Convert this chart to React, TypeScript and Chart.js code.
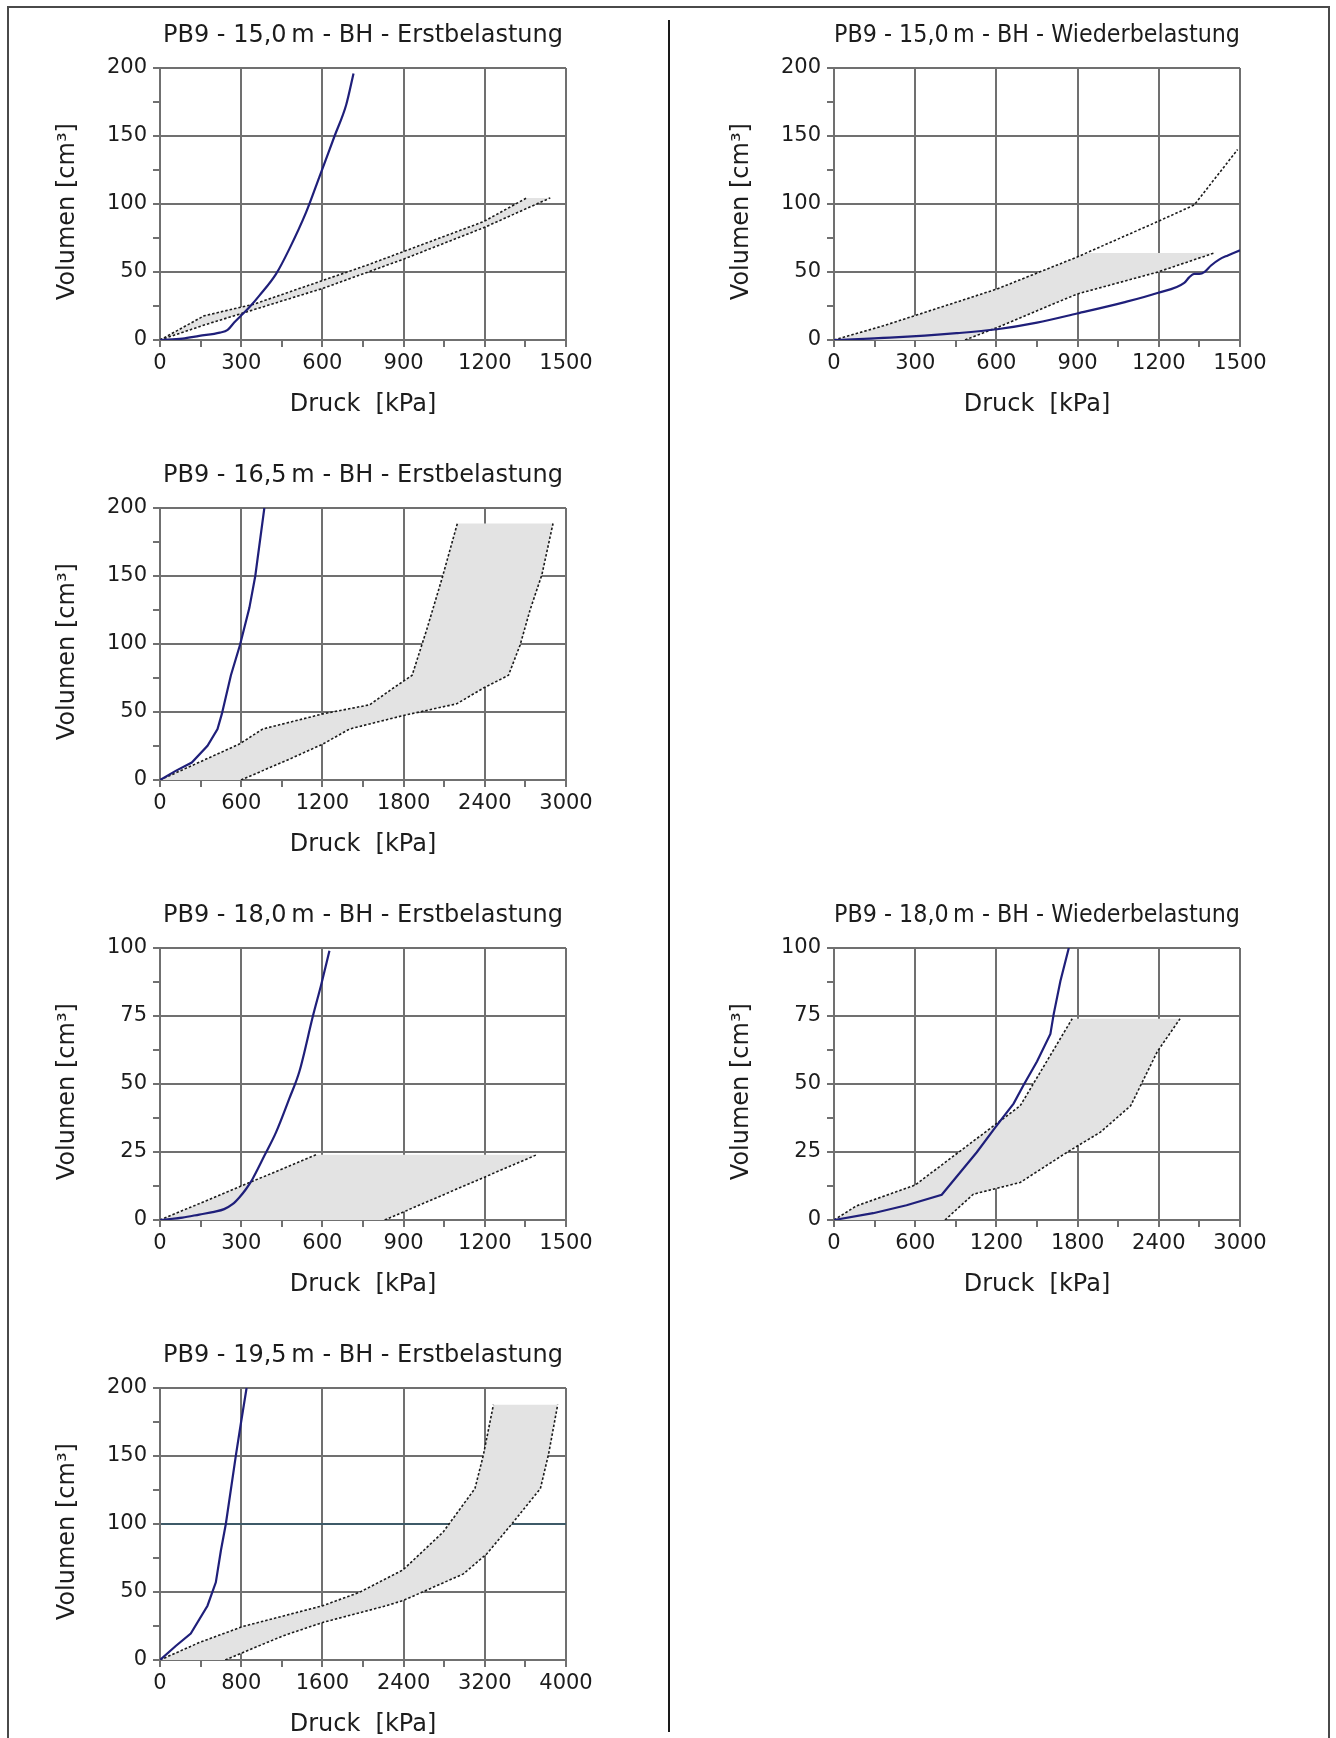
import React, { useEffect, useRef } from "react";
import { Chart, registerables } from "chart.js";

Chart.register(...registerables);

type Pt = [number, number];

// ---------- PB9 - 15,0 m - Erstbelastung ----------
const p1Curve: Pt[] = [[0,0],[83,1],[145,3],[221,5.4],[250,7.4],[274,12.8],[299,17.8],[330,24],[367,32.6],[429,48.6],[478,67],[540,94],[589,120],[645,150],[688,173],[715,196]];
const p1Upper: Pt[] = [[0,0],[163,17.8],[348,26.4],[762,54.8],[1195,87],[1355,104.5]];
const p1Lower: Pt[] = [[0,0],[163,11],[293,19],[602,38],[898,59.3],[1195,82.5],[1442,104.5]];

// ---------- PB9 - 15,0 m - Wiederbelastung ----------
const p2Curve: Pt[] = [[0,0],[206,1.7],[453,5],[602,7.9],[750,12.8],[898,19.5],[1071,27.7],[1195,34.6],[1294,42],[1312,46],[1331,48.6],[1350,48.6],[1368,49.9],[1393,54.8],[1424,59.3],[1455,62.2],[1500,66]];
const p2Upper: Pt[] = [[0,0],[182,10.4],[602,37.5],[898,61],[1195,87],[1331,99.3],[1491,140]];
const p2Lower: Pt[] = [[484,0],[602,9.1],[898,33.8],[1195,49.9],[1405,64]];
const p2Band: Pt[] = [[0,0],[182,10.4],[602,37.5],[898,61],[935,64],[1405,64],[1195,49.9],[898,33.8],[602,9.1],[484,0]];

// ---------- PB9 - 16,5 m - Erstbelastung ----------
const p3Curve: Pt[] = [[0,0],[116,6.7],[235,12.8],[351,25.2],[425,37.5],[457,48.6],[524,77],[591,99.3],[660,126.4],[704,150],[771,200]];
const p3Upper: Pt[] = [[0,0],[586,26.4],[759,37.5],[1203,48.6],[1549,55.3],[1715,67],[1863,77],[1974,111.6],[2085,148.6],[2197,188.6]];
const p3Lower: Pt[] = [[598,0],[956,15.3],[1203,26.4],[1401,37.5],[1797,47.4],[2192,56],[2390,67.6],[2575,77],[2661,99.3],[2735,125.2],[2822,151],[2904,188.6]];

// ---------- PB9 - 18,0 m - Erstbelastung ----------
const p4Curve: Pt[] = [[0,0],[83,0.9],[145,2],[200,3],[237,4],[268,5.8],[293,8.3],[318,11.4],[342,15.1],[386,23.7],[429,32.3],[478,44.7],[515,54.6],[565,75],[596,86.7],[626,99]];
const p4Upper: Pt[] = [[0,0],[577,24]];
const p4Lower: Pt[] = [[830,0],[1392,24]];

// ---------- PB9 - 18,0 m - Wiederbelastung ----------
const p5Curve: Pt[] = [[0,0],[289,2.5],[536,5.4],[796,9.3],[1055,24.9],[1203,34.8],[1327,42.8],[1401,49.6],[1500,58.3],[1599,68.4],[1623,75.6],[1673,87.9],[1735,100]];
const p5Upper: Pt[] = [[0,0],[166,5.2],[598,12.8],[1376,42],[1760,74]];
const p5Lower: Pt[] = [[820,0],[1030,9.5],[1376,13.8],[1722,24.9],[1969,32.3],[2192,42],[2390,62],[2557,74]];

// ---------- PB9 - 19,5 m - Erstbelastung ----------
const p6Curve: Pt[] = [[0,0],[155,10.3],[303,19.5],[468,39.9],[550,57.1],[600,80.5],[649,100.2],[748,150.7],[797,174.1],[853,200]];
const p6Upper: Pt[] = [[0,0],[386,12.8],[814,24.6],[1603,39.9],[1966,49.8],[2395,66.3],[2790,94.1],[3103,126.1],[3186,150.7],[3285,187.7]];
const p6Lower: Pt[] = [[643,0],[1209,17.7],[1603,27.6],[2194,39.2],[2392,43.6],[2989,63.3],[3220,78.1],[3468,100.2],[3748,126.1],[3830,152],[3918,187.7]];

const FONT = "'DejaVu Sans', 'Liberation Sans', Arial, sans-serif";
const TEXT = "#1c1c1c";
const GRID = "#707070";
const BLUE = "#1f1f7a";
const DOT = "#1a1a1a";
const BAND = "#e3e3e3";

interface PanelDef {
  title: string;
  col: number;
  row: number;
  xMax: number;
  xMajor: number;
  yMax: number;
  yMajor: number;
  curve: Pt[];
  upper: Pt[];
  lower: Pt[];
  band: Pt[];
  smooth: boolean;
  accentY?: number;
}

const closeBand = (u: Pt[], l: Pt[]): Pt[] => [...u, ...l.slice().reverse()];

const PANELS: PanelDef[] = [
  { title: "PB9 - 15,0\u2009m - BH - Erstbelastung", col: 0, row: 0, xMax: 1500, xMajor: 300, yMax: 200, yMajor: 50, curve: p1Curve, upper: p1Upper, lower: p1Lower, band: closeBand(p1Upper, p1Lower), smooth: true },
  { title: "PB9 - 15,0\u2009m - BH - Wiederbelastung", col: 1, row: 0, xMax: 1500, xMajor: 300, yMax: 200, yMajor: 50, curve: p2Curve, upper: p2Upper, lower: p2Lower, band: p2Band, smooth: true },
  { title: "PB9 - 16,5\u2009m - BH - Erstbelastung", col: 0, row: 1, xMax: 3000, xMajor: 600, yMax: 200, yMajor: 50, curve: p3Curve, upper: p3Upper, lower: p3Lower, band: closeBand(p3Upper, p3Lower), smooth: false },
  { title: "PB9 - 18,0\u2009m - BH - Erstbelastung", col: 0, row: 2, xMax: 1500, xMajor: 300, yMax: 100, yMajor: 25, curve: p4Curve, upper: p4Upper, lower: p4Lower, band: closeBand(p4Upper, p4Lower), smooth: true },
  { title: "PB9 - 18,0\u2009m - BH - Wiederbelastung", col: 1, row: 2, xMax: 3000, xMajor: 600, yMax: 100, yMajor: 25, curve: p5Curve, upper: p5Upper, lower: p5Lower, band: closeBand(p5Upper, p5Lower), smooth: false },
  { title: "PB9 - 19,5\u2009m - BH - Erstbelastung", col: 0, row: 3, xMax: 4000, xMajor: 800, yMax: 200, yMajor: 50, curve: p6Curve, upper: p6Upper, lower: p6Lower, band: closeBand(p6Upper, p6Lower), smooth: false, accentY: 100 },
];

const CANVAS_W = 600;
const CANVAS_H = 430;
const COL_LEFT = [0, 674];
const ROW_TOP = 440;
const Y_AXIS_W = 160;
const X_AXIS_H = 90;

const toXY = (a: Pt[]) => a.map(([x, y]) => ({ x, y }));

function Panel({ def }: { def: PanelDef }) {
  const ref = useRef<HTMLCanvasElement | null>(null);
  useEffect(() => {
    if (!ref.current) return;
    const isMajor = (v: number, m: number) => Math.abs(v / m - Math.round(v / m)) < 1e-6;
    const chart = new Chart(ref.current, {
      type: "line",
      data: {
        datasets: [
          {
            data: toXY(def.curve),
            borderColor: BLUE,
            borderWidth: 2.2,
            pointRadius: 0,
            fill: false,
            cubicInterpolationMode: def.smooth ? "monotone" : "default",
            tension: 0,
          } as any,
          {
            data: toXY(def.upper),
            borderColor: DOT,
            borderWidth: 1.6,
            borderDash: [2.5, 2],
            pointRadius: 0,
            fill: false,
          },
          {
            data: toXY(def.lower),
            borderColor: DOT,
            borderWidth: 1.6,
            borderDash: [2.5, 2],
            pointRadius: 0,
            fill: false,
          },
          {
            data: toXY(def.band),
            borderColor: "rgba(0,0,0,0)",
            borderWidth: 0,
            backgroundColor: BAND,
            pointRadius: 0,
            fill: "shape",
          } as any,
        ],
      },
      options: {
        animation: false,
        responsive: false,
        maintainAspectRatio: false,
        events: [],
        layout: { padding: { left: 0, right: CANVAS_W - Y_AXIS_W - 406, top: 1, bottom: 0 } },
        plugins: {
          legend: { display: false },
          tooltip: { enabled: false },
          title: {
            display: true,
            text: def.title,
            fullSize: false,
            color: TEXT,
            font: { family: FONT, size: 24, weight: "normal", lineHeight: 1.25 },
            padding: { top: 20, bottom: 17 },
          },
        },
        scales: {
          x: {
            type: "linear",
            min: 0,
            max: def.xMax,
            afterFit: (s: any) => { s.height = X_AXIS_H; },
            ticks: {
              stepSize: def.xMajor / 2,
              autoSkip: false,
              maxRotation: 0,
              minRotation: 0,
              color: TEXT,
              padding: 6,
              font: { family: FONT, size: 21, lineHeight: 1 },
              callback: (v: any) => (isMajor(Number(v), def.xMajor) ? String(v) : ""),
            },
            grid: {
              color: (c: any) => (c.tick && isMajor(c.tick.value, def.xMajor) ? GRID : "rgba(0,0,0,0)"),
              tickColor: GRID,
              lineWidth: 2,
              tickWidth: 2,
              tickLength: 7,
            },
            border: { display: true, color: GRID, width: 2 },
            title: {
              display: true,
              text: "Druck  [kPa]",
              color: TEXT,
              font: { family: FONT, size: 24, lineHeight: 1 },
              padding: { top: 0, bottom: 13 },
            },
          } as any,
          y: {
            type: "linear",
            min: 0,
            max: def.yMax,
            afterFit: (s: any) => { s.width = Y_AXIS_W; },
            ticks: {
              stepSize: def.yMajor / 2,
              autoSkip: false,
              color: TEXT,
              padding: 6,
              font: { family: FONT, size: 21, lineHeight: 1 },
              callback: (v: any) => (isMajor(Number(v), def.yMajor) ? String(v) : ""),
            },
            grid: {
              color: (c: any) => {
                if (!c.tick || !isMajor(c.tick.value, def.yMajor)) return "rgba(0,0,0,0)";
                if (def.accentY !== undefined && c.tick.value === def.accentY) return "#3e5a68";
                return GRID;
              },
              tickColor: GRID,
              lineWidth: 2,
              tickWidth: 2,
              tickLength: 7,
            },
            border: { display: true, color: GRID, width: 2 },
            title: {
              display: true,
              text: "Volumen [cm³]\u00A0\u00A0",
              color: TEXT,
              font: { family: FONT, size: 24, lineHeight: 1.2 },
              padding: { top: 53, bottom: 0 },
            },
          } as any,
        },
      },
    });
    return () => chart.destroy();
  }, [def]);

  return (
    <canvas
      ref={ref}
      width={CANVAS_W}
      height={CANVAS_H}
      style={{
        position: "absolute",
        left: COL_LEFT[def.col],
        top: def.row * ROW_TOP,
        width: CANVAS_W,
        height: CANVAS_H,
      }}
    />
  );
}

export default function App() {
  return (
    <div
      style={{
        position: "absolute",
        left: 0,
        top: 0,
        width: 1336,
        height: 1738,
        overflow: "hidden",
        background: "#ffffff",
      }}
    >
      <div
        style={{
          position: "absolute",
          left: 7,
          top: 6,
          width: 1319,
          height: 1760,
          borderLeft: "2px solid #4a4a4a",
          borderTop: "2px solid #4a4a4a",
          borderRight: "2px solid #4a4a4a",
        }}
      />
      <div
        style={{
          position: "absolute",
          left: 668,
          top: 20,
          width: 2,
          height: 1712,
          background: "#1a1a1a",
        }}
      />
      {PANELS.map((p, i) => (
        <Panel key={i} def={p} />
      ))}
    </div>
  );
}
